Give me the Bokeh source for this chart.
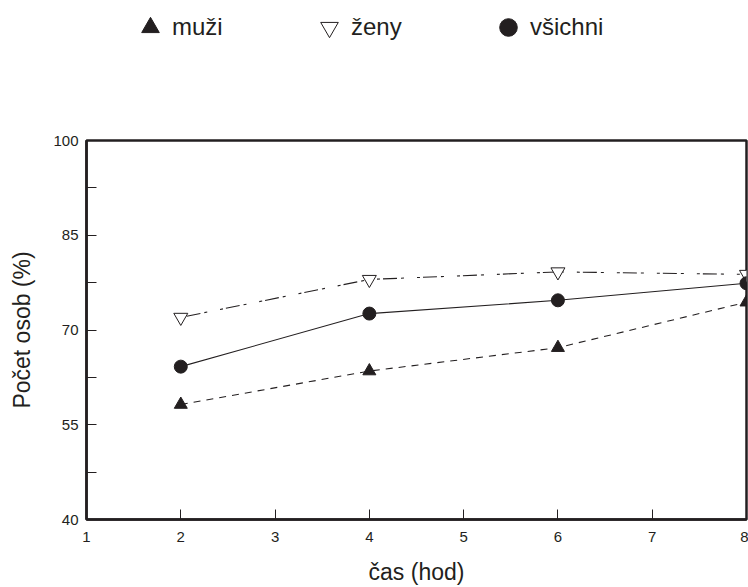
from bokeh.plotting import figure
from bokeh.layouts import column
from bokeh.models import FixedTicker, Legend, LegendItem, Range1d
from bokeh.embed import file_html
from bokeh.resources import INLINE

# ---- data ----
hours = [2, 4, 6, 8]
muzi = [58.2, 63.5, 67.2, 74.4]
zeny = [72.0, 78.0, 79.2, 78.8]
vsichni = [64.2, 72.6, 74.7, 77.4]
series_names = ["muži", "ženy", "všichni"]
x_ticks = [1, 2, 3, 4, 5, 6, 7, 8]
y_ticks = [40, 55, 70, 85, 100]
y_minor_ticks = [47.5, 62.5, 77.5, 92.5]

FONT = "Liberation Sans"
INK = "#231f20"
W = 748
LEG_H = 60

# ---- main chart ----
p = figure(width=W, height=587 - LEG_H, x_range=Range1d(1, 8), y_range=Range1d(40, 100),
           output_backend="svg", toolbar_location=None,
           min_border_left=86, min_border_right=2, min_border_top=140 - LEG_H,
           min_border_bottom=68)

p.xgrid.visible = False
p.ygrid.visible = False
p.outline_line_color = INK
p.outline_line_width = 2.5
p.background_fill_color = "white"
p.border_fill_color = "white"

p.line(hours, muzi, line_color=INK, line_width=1.1, line_dash="7 6")
p.line(hours, zeny, line_color=INK, line_width=1.1, line_dash="3 3 14 4 3 13")
p.line(hours, vsichni, line_color=INK, line_width=1.1)

MARK = dict(
    m=dict(marker="triangle", size=13, fill_color=INK, line_color=INK),
    z=dict(marker="inverted_triangle", size=14, fill_color="white", line_color=INK, line_width=1),
    v=dict(marker="circle", size=13, fill_color=INK, line_color=INK),
)
p.scatter(hours, muzi, **MARK["m"])
p.scatter(hours, zeny, **MARK["z"])
p.scatter(hours, vsichni, **MARK["v"])

p.xaxis.ticker = FixedTicker(ticks=x_ticks, minor_ticks=[])
p.yaxis.ticker = FixedTicker(ticks=y_ticks, minor_ticks=y_minor_ticks)
for ax in (p.xaxis[0], p.yaxis[0]):
    ax.axis_line_color = INK
    ax.axis_line_width = 2.5
    ax.major_tick_in = 10
    ax.major_tick_out = 0
    ax.major_tick_line_color = INK
    ax.major_tick_line_width = 1
    ax.minor_tick_in = 10
    ax.minor_tick_out = 0
    ax.minor_tick_line_color = INK
    ax.major_label_text_font = FONT
    ax.major_label_text_font_size = "15px"
    ax.major_label_text_color = INK
    ax.axis_label_text_font = FONT
    ax.axis_label_text_font_size = "23px"
    ax.axis_label_text_font_style = "normal"
    ax.axis_label_text_color = INK

p.xaxis.axis_label = "čas (hod)"
p.yaxis.axis_label = "Počet osob (%)"
p.xaxis.major_label_standoff = 12
p.xaxis.axis_label_standoff = 14
p.yaxis.major_label_standoff = 8
p.yaxis.axis_label_standoff = 15

# ---- legend strip (its own figure, data lies outside its ranges) ----
lf = figure(width=W, height=LEG_H, x_range=Range1d(0, 1), y_range=Range1d(0, 1),
            output_backend="svg", toolbar_location=None, x_axis_type=None, y_axis_type=None,
            min_border=0)
lf.xgrid.visible = False
lf.ygrid.visible = False
lf.outline_line_color = None
lf.background_fill_color = "white"
lf.border_fill_color = "white"
lr_m = lf.scatter(hours, muzi, **MARK["m"])
lr_z = lf.scatter(hours, zeny, **MARK["z"])
lr_v = lf.scatter(hours, vsichni, **MARK["v"])

legend = Legend(items=[LegendItem(label=series_names[0], renderers=[lr_m]),
                       LegendItem(label=series_names[1], renderers=[lr_z]),
                       LegendItem(label=series_names[2], renderers=[lr_v])],
                orientation="horizontal", location=(42, LEG_H - 49),
                glyph_width=44, glyph_height=44, label_standoff=0, label_width=130,
                spacing=5, padding=0, margin=0,
                border_line_color=None, background_fill_alpha=0,
                label_text_font=FONT, label_text_font_size="24px",
                label_text_color=INK)
lf.add_layout(legend)

layout = column(lf, p, spacing=0)
open("out.html", "w").write(file_html(layout, INLINE))
